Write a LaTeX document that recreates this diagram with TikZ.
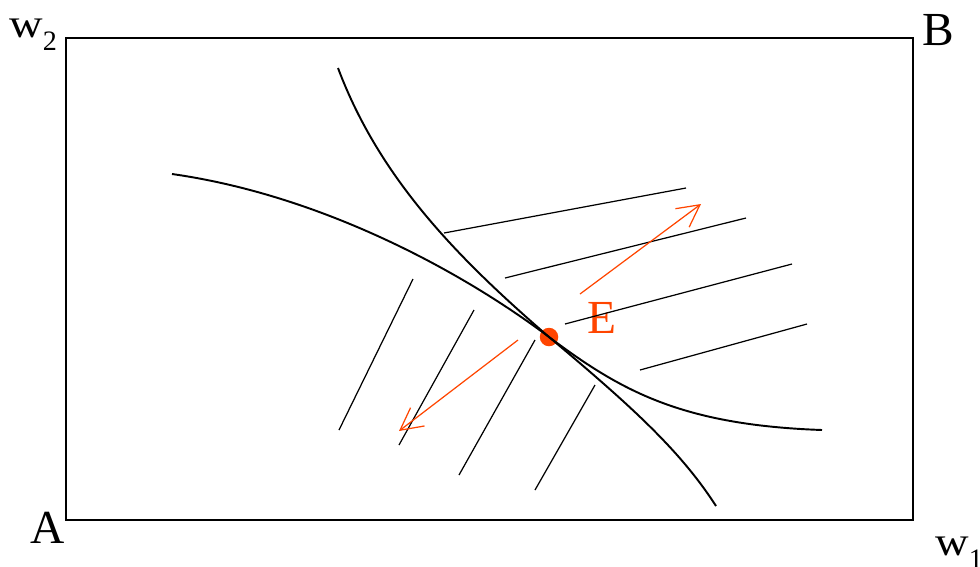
\documentclass[tikz,border=0pt]{standalone}
\usepackage{fontspec}
\setmainfont{Liberation Serif}
\definecolor{redorange}{RGB}{255,69,0}
\usetikzlibrary{arrows.meta,positioning}

\newcommand{\wsub}[1]{\scalebox{1.15}[1]{w}\raisebox{-0.26cm}{\fontsize{16}{16}\selectfont #1}}

\begin{document}
\begin{tikzpicture}[x=0.02cm,y=-0.02cm,
  frame/.style={draw=black, line width=1.1pt},
  curve/.style={black, line width=1.1pt},
  ray/.style={black, line width=0.7pt},
  move/.style={-{Straight Barb[length=0.44cm,width=0.46cm]}, redorange, line width=0.7pt},
  big/.style={font=\fontsize{27}{30}\selectfont, inner sep=0pt, anchor=base west},
  axis/.style={font=\fontsize{23}{25}\selectfont, inner sep=0pt, anchor=base west}
]
  \useasboundingbox (0,0) rectangle (980,566);

  % box and corner labels
  \coordinate (A) at (66,520);
  \coordinate (B) at (913,38);
  \draw[frame] (A) rectangle (B);
  \node[big] (labA) at (30,543) {A};
  \node[big] (labB) at (922,45) {B};
  \node[axis] (w2) at (9,37) {\wsub{2}};
  \node[axis] (w1) at (935,555) {\wsub{1}};

  % point E
  \node[circle, fill=redorange, minimum size=0.37cm, inner sep=0pt] (E) at (549,337) {};
  \node[big, text=redorange] (labE) at (587,333) {E};

  % the two curves through E
  \draw[curve] (338,68) .. controls (380,180) and (460,260) .. (E.center)
    .. controls (630,405) and (680,450) .. (716,506);
  \draw[curve] (172,174) .. controls (320,195) and (460,270) .. (E.center)
    .. controls (620,390) and (680,425) .. (822,430);

  % upper right lines
  \draw[ray] (444,233) -- (686,188);
  \draw[ray] (505,278) -- (746,218);
  \draw[ray] (565,324) -- (792,264);
  \draw[ray] (640,370) -- (807,324);

  % lower left lines
  \draw[ray] (339,430) -- (413,279);
  \draw[ray] (399,445) -- (474,310);
  \draw[ray] (459,475) -- (535,340);
  \draw[ray] (535,490) -- (595,385);

  % directions of movement
  \coordinate (up0) at (580,294);
  \coordinate (up1) at (701,204);
  \coordinate (dn0) at (518,340);
  \coordinate (dn1) at (399,431);
  \draw[move] (up0) -- (up1);
  \draw[move] (dn0) -- (dn1);
\end{tikzpicture}
\end{document}
